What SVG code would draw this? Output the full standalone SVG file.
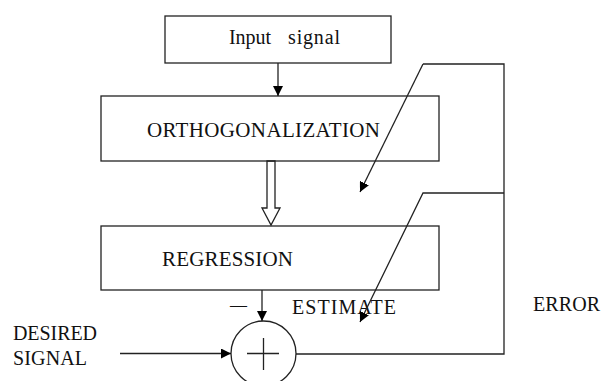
<svg xmlns="http://www.w3.org/2000/svg" width="605" height="381" viewBox="0 0 605 381">
<style>
  .box{fill:#fff;stroke:#222;stroke-width:1.3}
  .ln{fill:none;stroke:#222;stroke-width:1.3}
  text{font-family:'Liberation Serif','Times New Roman',Times,serif;font-size:20px;fill:#111}
</style>
<defs>
  <marker id="ah" viewBox="0 0 10 10" refX="10" refY="5" markerWidth="10" markerHeight="10" markerUnits="userSpaceOnUse" orient="auto">
    <path d="M0,0 L10,5 L0,10 Z" fill="#000"/>
  </marker>
</defs>
<rect width="605" height="381" fill="#fff"/>
<g id="input">
  <rect class="box" x="165" y="16" width="226" height="47"/>
  <text x="229" y="44" textLength="42" lengthAdjust="spacing">Input</text>
  <text x="288" y="44" textLength="52" lengthAdjust="spacing">signal</text>
</g>
<g id="orthogonalization">
  <rect class="box" x="101" y="96" width="338" height="65"/>
  <text x="147" y="137" style="font-size:21px" textLength="233" lengthAdjust="spacing">ORTHOGONALIZATION</text>
</g>
<g id="regression">
  <rect class="box" x="101" y="226" width="338" height="64"/>
  <text x="162" y="266" style="font-size:21px" textLength="131" lengthAdjust="spacing">REGRESSION</text>
</g>
<g id="sum">
  <circle class="ln" cx="263.5" cy="353.5" r="32.5"/>
  <path class="ln" d="M247,353.5 H279 M263.5,338 V370" stroke="#555"/>
</g>
<g id="labels">
  <text x="230" y="310" style="font-size:17px">—</text>
  <text x="292" y="314" textLength="104" lengthAdjust="spacing">ESTIMATE</text>
  <text x="533" y="311" textLength="67" lengthAdjust="spacing">ERROR</text>
  <text x="13" y="340" textLength="84" lengthAdjust="spacing">DESIRED</text>
  <text x="13" y="365" textLength="74" lengthAdjust="spacing">SIGNAL</text>
</g>
<g id="connectors">
  <path class="ln" d="M278,63 V96" marker-end="url(#ah)"/>
  <polygon class="ln" fill="#fff" points="267,161 275,161 275,208 280,208 271,225 262,208 267,208"/>
  <path class="ln" d="M262,290 V321" marker-end="url(#ah)"/>
  <path class="ln" d="M120,353.5 H231" marker-end="url(#ah)"/>
  <path class="ln" d="M296,354 H504 V64 H423"/>
  <path class="ln" d="M423,64 L360,192" marker-end="url(#ah)"/>
  <path class="ln" d="M504,193 H423 L360,322" marker-end="url(#ah)"/>
</g>
</svg>
